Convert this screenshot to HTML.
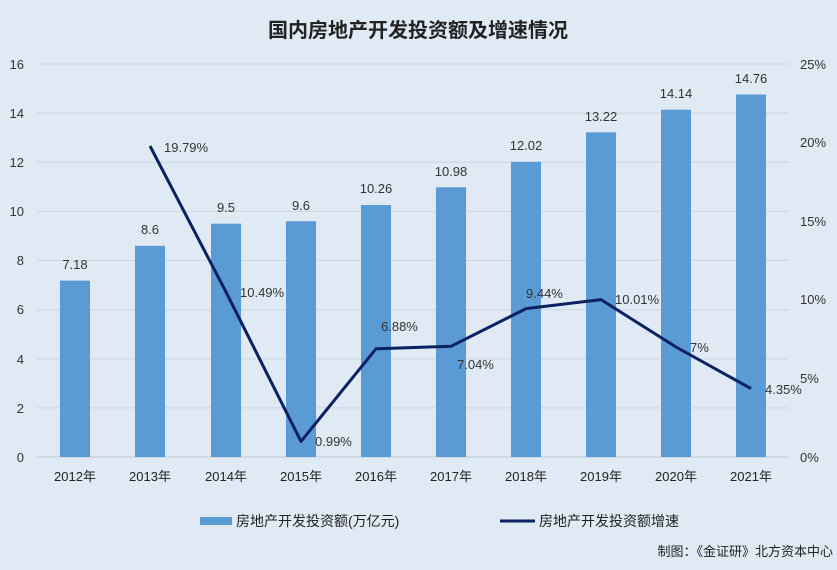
<!DOCTYPE html><html><head><meta charset="utf-8"><style>body{margin:0;background:#dfeaf5;}svg{display:block;font-family:"Liberation Sans","Noto Sans CJK SC",sans-serif;}</style></head><body>
<svg width="837" height="570" viewBox="0 0 837 570">
<rect width="837" height="570" fill="#dfeaf5"/>
<text x="418" y="37" text-anchor="middle" font-size="20" font-weight="bold" fill="#222">国内房地产开发投资额及增速情况</text>
<g stroke="#cdd6df" stroke-width="1">
<line x1="37" x2="789" y1="64" y2="64"/><line x1="37" x2="789" y1="113.1" y2="113.1"/><line x1="37" x2="789" y1="162.3" y2="162.3"/><line x1="37" x2="789" y1="211.4" y2="211.4"/><line x1="37" x2="789" y1="260.5" y2="260.5"/><line x1="37" x2="789" y1="309.6" y2="309.6"/><line x1="37" x2="789" y1="358.8" y2="358.8"/><line x1="37" x2="789" y1="407.9" y2="407.9"/>
</g>
<line x1="37" x2="789" y1="457" y2="457" stroke="#bfc8d0"/>
<g font-size="13" fill="#333" text-anchor="end">
<text x="24" y="69">16</text><text x="24" y="118">14</text><text x="24" y="167">12</text><text x="24" y="216">10</text><text x="24" y="265">8</text><text x="24" y="314">6</text><text x="24" y="364">4</text><text x="24" y="413">2</text><text x="24" y="462">0</text>
</g>
<g font-size="13" fill="#333">
<text x="800" y="69">25%</text><text x="800" y="147">20%</text><text x="800" y="226">15%</text><text x="800" y="304">10%</text><text x="800" y="383">5%</text><text x="800" y="462">0%</text>
</g>
<g fill="#5b9bd5">
<rect x="60" y="280.6" width="30" height="176.4"/><rect x="135" y="245.8" width="30" height="211.2"/><rect x="211" y="223.7" width="30" height="233.3"/><rect x="286" y="221.2" width="30" height="235.8"/><rect x="361" y="205" width="30" height="252"/><rect x="436" y="187.3" width="30" height="269.7"/><rect x="511" y="161.8" width="30" height="295.2"/><rect x="586" y="132.3" width="30" height="324.7"/><rect x="661" y="109.7" width="30" height="347.3"/><rect x="736" y="94.5" width="30" height="362.5"/>
</g>
<g font-size="13" fill="#333" text-anchor="middle">
<text x="75" y="269">7.18</text><text x="150" y="234">8.6</text><text x="226" y="212">9.5</text><text x="301" y="210">9.6</text><text x="376" y="193">10.26</text><text x="451" y="176">10.98</text><text x="526" y="150">12.02</text><text x="601" y="121">13.22</text><text x="676" y="98">14.14</text><text x="751" y="83">14.76</text>
</g>
<polyline fill="none" stroke="#0b2161" stroke-width="3" stroke-linejoin="round" points="150,146 226,292 301,441.4 376,348.8 451,346.3 526,308.6 601,299.6 676,347 751,388.6"/>
<g font-size="13" fill="#333">
<text x="164" y="152">19.79%</text><text x="240" y="297">10.49%</text><text x="315" y="446">0.99%</text><text x="381" y="331">6.88%</text><text x="457" y="369">7.04%</text><text x="526" y="298">9.44%</text><text x="615" y="304">10.01%</text><text x="690" y="352">7%</text><text x="765" y="394">4.35%</text>
</g>
<g font-size="13" fill="#222" text-anchor="middle">
<text x="75" y="481">2012年</text><text x="150" y="481">2013年</text><text x="226" y="481">2014年</text><text x="301" y="481">2015年</text><text x="376" y="481">2016年</text><text x="451" y="481">2017年</text><text x="526" y="481">2018年</text><text x="601" y="481">2019年</text><text x="676" y="481">2020年</text><text x="751" y="481">2021年</text>
</g>
<rect x="200" y="517" width="32" height="8" fill="#5b9bd5"/>
<text x="236" y="526" font-size="14" fill="#222">房地产开发投资额(万亿元)</text>
<line x1="500" x2="535" y1="521" y2="521" stroke="#0b2161" stroke-width="3"/>
<text x="539" y="526" font-size="14" fill="#222">房地产开发投资额增速</text>
<text x="833" y="556" font-size="13" fill="#222" text-anchor="end">制图：《金证研》北方资本中心</text>
</svg></body></html>
